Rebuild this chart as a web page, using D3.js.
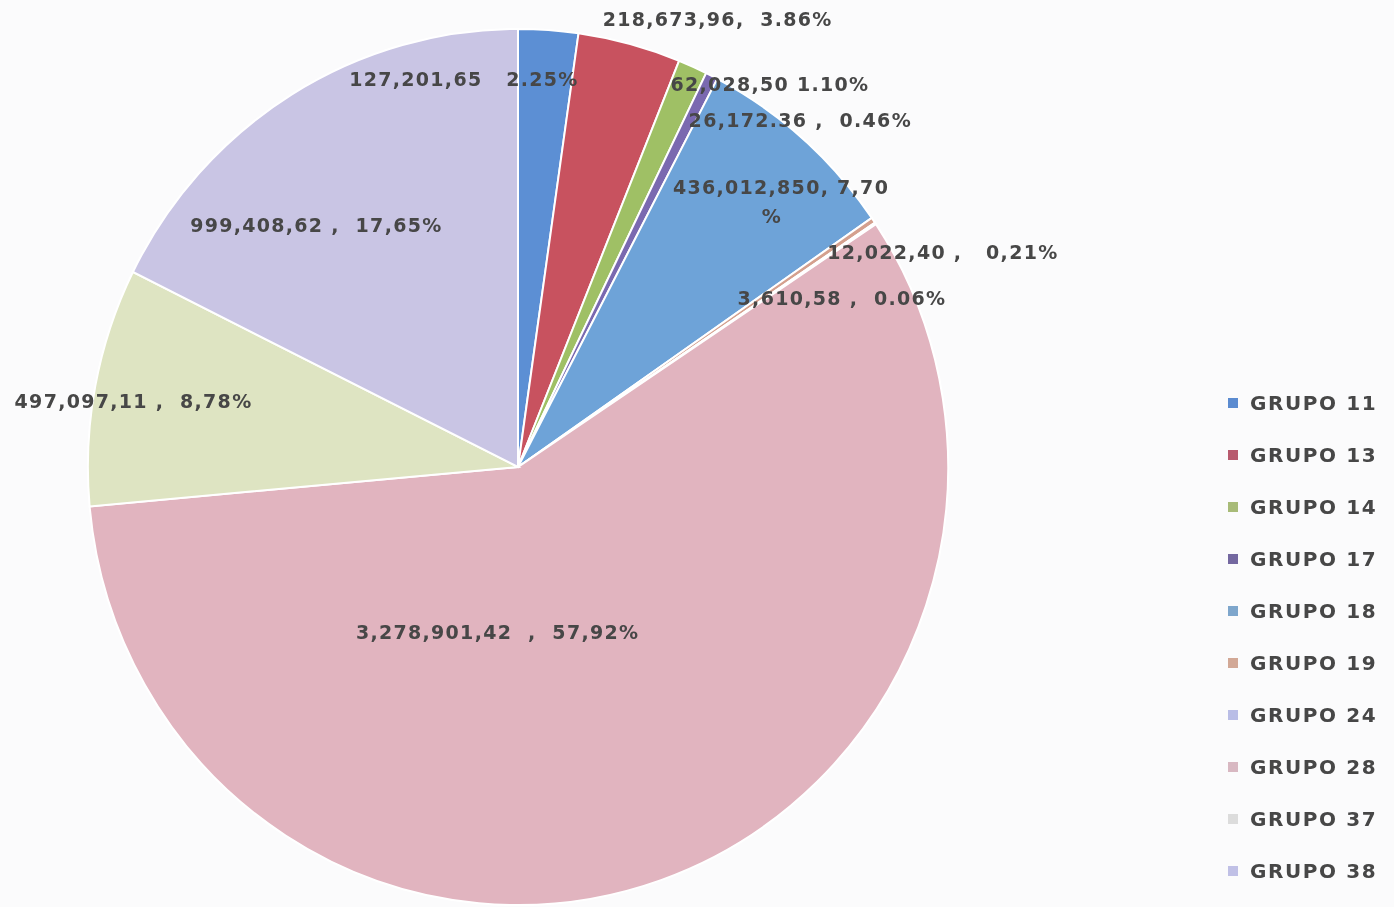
<!DOCTYPE html>
<html>
<head>
<meta charset="utf-8">
<script src="https://cdn.jsdelivr.net/npm/d3@7"></script>
<style>
  body { margin: 0; background: #fbfbfc; }
  svg text { font-family: "DejaVu Sans", Verdana, sans-serif; font-weight: bold; fill: #464646; white-space: pre; }
</style>
</head>
<body>
<script>
// Data
const groups = ["GRUPO 11", "GRUPO 13", "GRUPO 14", "GRUPO 17", "GRUPO 18",
                "GRUPO 19", "GRUPO 24", "GRUPO 28", "GRUPO 37", "GRUPO 38"];
const values = [127201.65, 218673.96, 62028.50, 26172.36, 436012.85,
                12022.40, 3610.58, 3278901.42, 497097.11, 999408.62];
const labelTexts = [
  ["127,201,65   2.25%"],
  ["218,673,96,  3.86%"],
  ["62,028,50 1.10%"],
  ["26,172.36 ,  0.46%"],
  ["436,012,850, 7,70", "%"],
  ["12,022,40 ,   0,21%"],
  ["3,610,58 ,  0.06%"],
  ["3,278,901,42  ,  57,92%"],
  ["497,097,11 ,  8,78%"],
  ["999,408,62 ,  17,65%"]
];
const sliceColors = ["#5c8fd4", "#c8525f", "#9fc065", "#7a69b0", "#6ea3d8",
                     "#d4a08e", "#b9c3ea", "#e1b4bf", "#dee4c2", "#c9c5e4"];
const legendColors = ["#5b8bd0", "#b85a6e", "#a8bb78", "#7468a0", "#7ea6cc",
                      "#d2a896", "#b9bde6", "#d8b8c2", "#dcdcdc", "#c0c0e6"];

// layout
const width = 1394, height = 907;
const cx = 518, cy = 467, R = 438;
const squashX = 0.982;   // the scanned pie is a touch narrower than tall
// label shifts from the slice's outer edge point (layout only)
const labelNudge = [[-85, 49], [86, -25], [74, 18], [85, 44], [-27, 63],
                    [63, 32], [-40, 75], [-166, -248], [46, 15], [29, 131]];

const svg = d3.select("body").append("svg")
    .attr("width", width)
    .attr("height", height);

// slight softening, the source is a scan
const defs = svg.append("defs");
defs.append("filter").attr("id", "soft")
    .append("feGaussianBlur").attr("stdDeviation", 0.45);

const pie = d3.pie().sort(null).value(d => d)(values);
const arc = d3.arc().innerRadius(0).outerRadius(R);

const g = svg.append("g").attr("transform", `translate(${cx},${cy}) scale(${squashX},1)`);

g.selectAll("path.slice")
    .data(pie)
    .join("path")
    .attr("class", "slice")
    .attr("d", arc)
    .attr("fill", (d, i) => sliceColors[i])
    .attr("stroke", "#ffffff")
    .attr("stroke-width", 2);

// Labels
const lg = svg.append("g").attr("transform", `translate(${cx},${cy})`);
const lbl = lg.selectAll("text.lbl")
    .data(pie)
    .join("text")
    .attr("class", "lbl")
    .attr("text-anchor", "middle")
    .attr("font-size", 19)
    .attr("letter-spacing", 1.3)
    .attr("filter", "url(#soft)")
    .attr("transform", (d, i) => {
        const a = (d.startAngle + d.endAngle) / 2;
        const x = R * Math.sin(a) + labelNudge[i][0];
        const y = -R * Math.cos(a) + labelNudge[i][1];
        return `translate(${x},${y})`;
    });

lbl.each(function (d, i) {
    const lines = labelTexts[i];
    const t = d3.select(this);
    lines.forEach((s, j) => {
        t.append("tspan")
            .attr("x", j === 0 ? 0 : -9)
            .attr("dy", j === 0 ? (lines.length > 1 ? "-0.4em" : "0.35em") : "1.5em")
            .text(s);
    });
});

// Legend
const legend = svg.append("g").attr("transform", "translate(1228,403)");
const item = legend.selectAll("g")
    .data(groups)
    .join("g")
    .attr("transform", (d, i) => `translate(0,${i * 52})`);

item.append("rect")
    .attr("x", 0).attr("y", -5)
    .attr("width", 10).attr("height", 10)
    .attr("fill", (d, i) => legendColors[i]);

item.append("text")
    .attr("x", 22)
    .attr("dy", "0.36em")
    .attr("font-size", 20)
    .attr("letter-spacing", 1.6)
    .attr("fill", "#555")
    .attr("filter", "url(#soft)")
    .text(d => d);
</script>
</body>
</html>
